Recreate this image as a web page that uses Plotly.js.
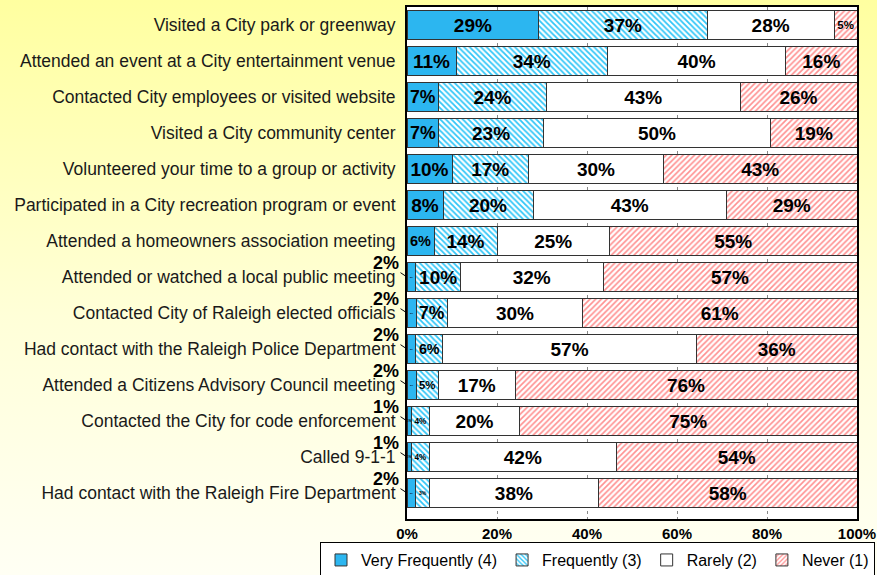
<!DOCTYPE html>
<html>
<head>
<meta charset="utf-8">
<script src="https://cdn.plot.ly/plotly-3.0.1.min.js"></script>
<style>
  html, body { margin: 0; padding: 0; }
  #chart { width: 877px; height: 575px; background: linear-gradient(to bottom, #FFFFA0 0%, #FFFFD8 55%, #FFFFF4 100%); }
</style>
</head>
<body>
<div id="chart"></div>
<script>
const categories = [
  "Visited a City park or greenway",
  "Attended an event at a City entertainment venue",
  "Contacted City employees or visited website",
  "Visited a City community center",
  "Volunteered your time to a group or activity",
  "Participated in a City recreation program or event",
  "Attended a homeowners association meeting",
  "Attended or watched a local public meeting",
  "Contacted City of Raleigh elected officials",
  "Had contact with the Raleigh Police Department",
  "Attended a Citizens Advisory Council meeting",
  "Contacted the City for code enforcement",
  "Called 9-1-1",
  "Had contact with the Raleigh Fire Department"
];
const veryFrequently = [29, 11, 7, 7, 10, 8, 6, 2, 2, 2, 2, 1, 1, 2];
const frequently     = [37, 34, 24, 23, 17, 20, 14, 10, 7, 6, 5, 4, 4, 3];
const rarely         = [28, 40, 43, 50, 30, 43, 25, 32, 30, 57, 17, 20, 42, 38];
const never          = [5, 16, 26, 19, 43, 29, 55, 57, 61, 36, 76, 75, 54, 58];
const seriesNames = ["Very Frequently (4)", "Frequently (3)", "Rarely (2)", "Never (1)"];
const xTicks = [0, 20, 40, 60, 80, 100];

const FONT = "Arial, 'Liberation Sans', sans-serif";
const labelFont = {family: FONT, size: 19, color: "#000", weight: "bold"};

function barTrace(name, vals, marker) {
  return {
    type: "bar", orientation: "h", name: name,
    y: categories, x: vals,
    text: vals.map(String), texttemplate: "%{text}%",
    textposition: "inside", insidetextanchor: "middle", textangle: 0,
    textfont: labelFont, constraintext: "inside",
    marker: marker, hoverinfo: "name+text"
  };
}

const traces = [
  barTrace(seriesNames[0], veryFrequently, {color: "#2CB6F0", line: {color: "#333", width: 1}}),
  barTrace(seriesNames[1], frequently, {color: "#FFFFFF", line: {color: "#333", width: 1},
    pattern: {shape: "\\", fgcolor: "#30C6F8", bgcolor: "#FFFFFF", size: 4, solidity: 0.45}}),
  barTrace(seriesNames[2], rarely, {color: "#FFFFFF", line: {color: "#333", width: 1}}),
  barTrace(seriesNames[3], never, {color: "#FFFFFF", line: {color: "#333", width: 1},
    pattern: {shape: "/", fgcolor: "#FF9090", bgcolor: "#FFFFFF", size: 4, solidity: 0.4}})
];

// call-out labels for the very small "Very Frequently" values
const annotations = [];
categories.forEach((c, i) => {
  if (veryFrequently[i] <= 2) {
    annotations.push({
      xref: "x", yref: "y", x: 0, y: c,
      text: veryFrequently[i] + "%",
      showarrow: true, arrowhead: 0, arrowwidth: 1, arrowcolor: "#000",
      ax: -21, ay: -14, standoff: 0,
      font: {family: FONT, size: 18, color: "#000", weight: "bold"}
    });
  }
});

const layout = {
  width: 877, height: 575,
  paper_bgcolor: "rgba(0,0,0,0)",
  plot_bgcolor: "#FFFFFF",
  margin: {l: 407, r: 20, t: 7, b: 56, autoexpand: false},
  barmode: "stack", barnorm: "percent", bargap: 0.18,
  showlegend: true,
  legend: {
    orientation: "h", x: -0.1933, xanchor: "left", y: -0.045, yanchor: "top",
    bgcolor: "#FFFFFF", bordercolor: "#000", borderwidth: 1,
    font: {family: FONT, size: 16, color: "#000"},
    traceorder: "normal", itemwidth: 30, tracegroupgap: 0
  },
  xaxis: {
    range: [0, 100], tickvals: xTicks, ticktext: xTicks.map(v => v + "%"),
    tickfont: {family: FONT, size: 15, color: "#000", weight: "bold"},
    showgrid: true, gridcolor: "#888", griddash: "dot", gridwidth: 1,
    showline: true, linecolor: "#000", linewidth: 2, mirror: true,
    zeroline: false, ticks: "", fixedrange: true
  },
  yaxis: {
    type: "category", autorange: "reversed",
    tickfont: {family: FONT, size: 17.5, color: "#1a1a1a"},
    showline: true, linecolor: "#000", linewidth: 2, mirror: true,
    showgrid: false, ticks: "", ticklabelstandoff: 6, fixedrange: true
  },
  annotations: annotations
};

Plotly.newPlot("chart", traces, layout, {displayModeBar: false, staticPlot: true});
</script>
</body>
</html>
